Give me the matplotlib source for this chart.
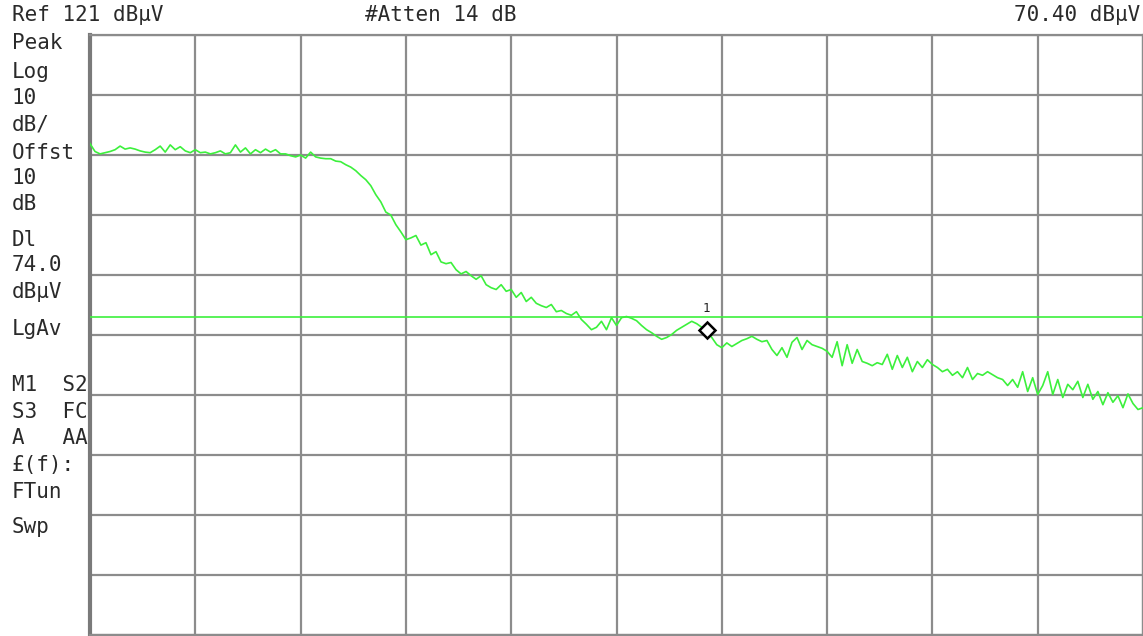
import numpy as np
import matplotlib
matplotlib.use('Agg')
import matplotlib.pyplot as plt

# instrument settings
ref_level = 121.0      # dBuV, top of screen
db_per_div = 10.0
display_line = 74.0    # dBuV
marker_index = 123

header_left = "Ref 121 dB\u00b5V"
header_mid = "#Atten 14 dB"
header_right = "70.40 dB\u00b5V"
side_labels = ["Peak", "Log", "10", "dB/", "Offst", "10", "dB", "Dl", "74.0",
               "dB\u00b5V", "LgAv", "M1  S2", "S3  FC", "A   AA", "\u00a3(f):",
               "FTun", "Swp"]
side_label_y = [43, 72, 98, 125, 153, 178, 204, 240, 265, 292, 329,
                385, 412, 438, 465, 492, 527]

# trace, dBuV, evenly spaced across the sweep
trace = [
    102.8, 101.5, 101.1, 101.3, 101.5, 101.8, 102.4, 101.9, 102.1,
    101.9, 101.6, 101.4, 101.3, 101.8, 102.4, 101.4, 102.6, 101.8, 102.3,
    101.6, 101.3, 101.8, 101.3, 101.4, 101.1, 101.3, 101.6, 101.1, 101.3,
    102.6, 101.4, 102.1, 101.1, 101.8, 101.3, 101.9, 101.4, 101.8, 101.1,
    101.1, 100.8, 100.6, 100.9, 100.4, 101.4, 100.6, 100.4, 100.3, 100.3,
    99.9, 99.8, 99.3, 98.9, 98.3, 97.5, 96.8, 95.8, 94.3, 93.1,
    91.4, 90.9, 89.3, 88.1, 86.8, 87.1, 87.5, 85.9, 86.3, 84.3,
    84.8, 83.1, 82.8, 83.0, 81.8, 81.1, 81.5, 80.8, 80.2, 80.8,
    79.3, 78.8, 78.5, 79.3, 78.2, 78.5, 77.2, 78.0, 76.5, 77.2,
    76.2, 75.8, 75.5, 76.0, 74.8, 75.0, 74.5, 74.2, 74.8, 73.5,
    72.7, 71.8, 72.2, 73.2, 71.8, 73.8, 72.5, 73.8, 74.0, 73.7,
    73.3, 72.5, 71.8, 71.3, 70.7, 70.2, 70.5, 71.0, 71.7, 72.2,
    72.7, 73.2, 72.8, 72.2, 71.7, 70.5, 69.3, 68.8, 69.6, 69.0,
    69.5, 70.0, 70.3, 70.7, 70.2, 69.8, 70.0, 68.5, 67.5, 68.8,
    67.2, 69.7, 70.5, 68.5, 70.0, 69.3, 69.0, 68.7, 68.2, 67.2,
    69.8, 65.8, 69.3, 66.2, 68.5, 66.5, 66.2, 65.8, 66.3, 66.0,
    67.7, 65.2, 67.5, 65.5, 67.2, 64.8, 66.5, 65.5, 66.8, 66.0,
    65.5, 64.8, 65.2, 64.2, 64.8, 63.8, 65.5, 63.5, 64.5, 64.2,
    64.8, 64.3, 63.8, 63.5, 62.5, 63.5, 62.2, 64.8, 61.5, 63.8,
    61.0, 62.5, 64.8, 61.0, 63.5, 60.5, 62.7, 61.8, 63.2, 60.5,
    62.7, 60.2, 61.5, 59.3, 61.3, 59.7, 60.8, 58.8, 61.1, 59.5,
    58.5, 58.8,
]

W, H = 1143, 636
fig = plt.figure(figsize=(W / 100, H / 100), dpi=100)
fig.patch.set_facecolor('white')

# screen area in pixels: x 90..1143, y 34.5..634.5
ax = fig.add_axes([90 / W, (H - 634.5) / H, 1053 / W, 600 / H])
sweep = np.linspace(0, 1, len(trace))

ax.set_xlim(0, 1)
ax.set_ylim(ref_level - 10 * db_per_div, ref_level)
ax.set_xticks(np.linspace(0, 1, 11))
ax.set_yticks(np.arange(ref_level - 10 * db_per_div, ref_level + 1, db_per_div))
ax.tick_params(length=0, labelbottom=False, labelleft=False)
ax.grid(True, color='#8c8c8c', linewidth=1.6)
ax.set_axisbelow(True)
for side in ['top', 'bottom', 'right']:
    ax.spines[side].set_color('#8c8c8c')
    ax.spines[side].set_linewidth(1.6)
ax.spines['left'].set_color('#7a7a7a')
ax.spines['left'].set_linewidth(3)

trace_green = '#3cf03c'
ax.axhline(display_line, color=trace_green, linewidth=1.2, zorder=3)
ax.plot(sweep, trace, color=trace_green, linewidth=1.2, zorder=4)

mx, my = sweep[marker_index], trace[marker_index]
ax.plot([mx], [my], marker='D', markersize=8, markerfacecolor='white',
        markeredgecolor='black', markeredgewidth=1.8, zorder=5)
ax.annotate('1', (mx, my), xytext=(0, 11), textcoords='offset points',
            ha='center', va='bottom', fontsize=9, color='#222222',
            family='DejaVu Sans Mono')

font = dict(family='DejaVu Sans Mono', color='#2a2a2a', fontsize=15)
fig.text(12 / W, 1 - 15 / H, header_left, ha='left', va='center', **font)
fig.text(365 / W, 1 - 15 / H, header_mid, ha='left', va='center', **font)
fig.text(1140 / W, 1 - 15 / H, header_right, ha='right', va='center', **font)
for label, y in zip(side_labels, side_label_y):
    fig.text(12 / W, 1 - y / H, label, ha='left', va='center', **font)

fig.savefig('out.png', dpi=100, facecolor='white')
